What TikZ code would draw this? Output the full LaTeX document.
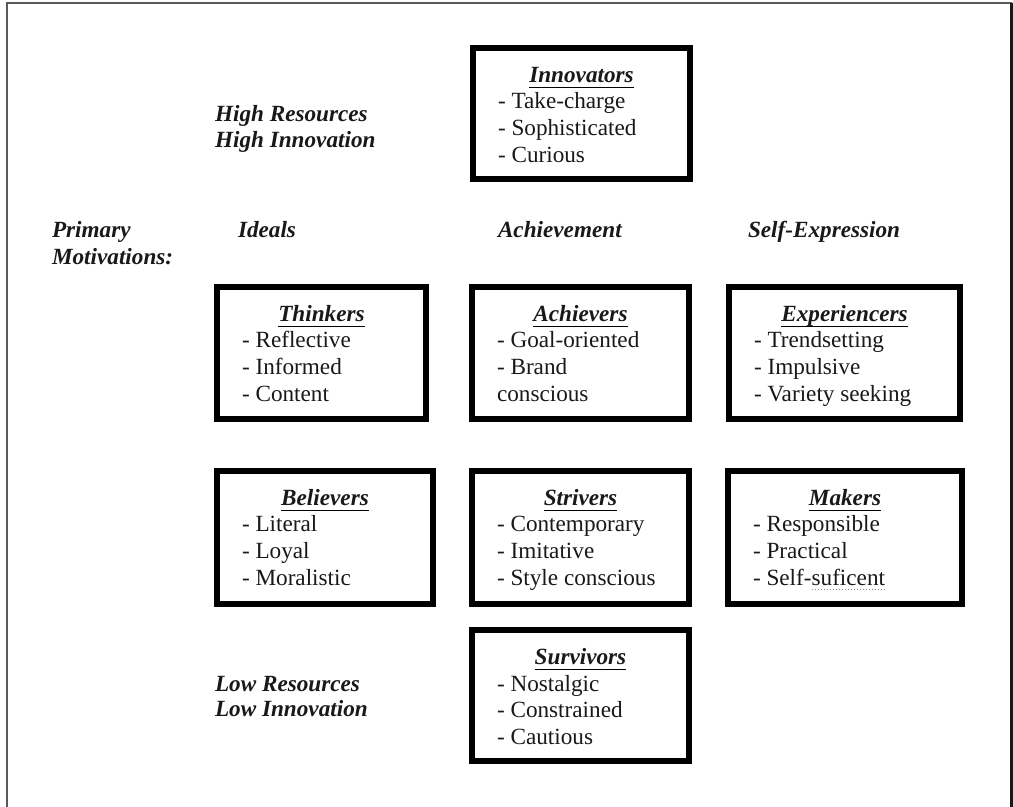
\documentclass[tikz,border=0pt]{standalone}
\usepackage{fontspec}
\setmainfont{Liberation Serif}
\usetikzlibrary{calc}
\newcommand{\bodysize}{\fontsize{11.6}{13.5}\selectfont}
\tikzset{
  cardbox/.style={draw=black, line width=3pt, inner sep=0pt, outer sep=0pt, fill=white},
  ttl/.style={anchor=base, inner sep=0pt, outer sep=0pt, text=black!90, font=\bodysize\bfseries\itshape},
  itm/.style={anchor=base west, inner sep=0pt, outer sep=0pt, text=black!90, font=\bodysize},
  lbl/.style={anchor=base west, inner sep=0pt, outer sep=0pt, text=black!90, font=\bodysize\bfseries\itshape},
  uline/.style={line width=0.65pt, black},
  frameleft/.style={draw=black!65, line width=1pt},
  frameright/.style={draw=black!90, line width=1.2pt},
  spellmark/.style={draw=black!45, line width=0.5pt, densely dotted}
}
\newcommand{\card}[9]{%
  \node[cardbox, minimum width={(#4-#2-6)*0.5pt}, minimum height={(#5-#3-6)*0.5pt}] (#1) at ({(#2+#4)/2},{(#3+#5)/2}) {};
  \node[ttl] (#1-t) at ($(#1.north)+(0,35)$) {#6};
  \draw[uline] ($(#1-t.base west)+(0,4.5)$) -- ($(#1-t.base east)+(0,4.5)$);
  \node[itm] (#1-a) at ($(#1.north west)+(25,61)$) {#7};
  \node[itm] (#1-b) at ($(#1.north west)+(25,88)$) {#8};
  \node[itm] (#1-c) at ($(#1.north west)+(25,115)$) {#9};
}
\begin{document}
\begin{tikzpicture}[x=0.5pt,y=-0.5pt]
  \useasboundingbox (0,0) rectangle (1013,807);
  \fill[white] (0,0) rectangle (1013,807);
  % outer frame
  \draw[frameleft] (7,808) -- (7,3.5) -- (1011.5,3.5);
  \draw[frameright] (1011.5,3) -- (1011.5,808);

  % cards
  \card{innovators}{470}{45}{693}{182}{Innovators}{- Take-charge}{- Sophisticated}{- Curious}
  \card{thinkers}{214}{284}{429}{422}{Thinkers}{- Reflective}{- Informed}{- Content}
  \card{achievers}{469}{284}{692}{422}{Achievers}{- Goal-oriented}{- Brand}{conscious}
  \card{experiencers}{726}{284}{963}{422}{Experiencers}{- Trendsetting}{- Impulsive}{- Variety seeking}
  \card{believers}{214}{468}{436}{607}{Believers}{- Literal}{- Loyal}{- Moralistic}
  \card{strivers}{469}{468}{692}{607}{Strivers}{- Contemporary}{- Imitative}{- Style conscious}
  \card{makers}{725}{468}{965}{607}{Makers}{- Responsible}{- Practical}{- Self-}
  \node[itm] (makers-d) at (makers-c.base east) {suficent};
  \draw[spellmark] ($(makers-d.base west)+(0,3.5)$) -- ($(makers-d.base east)+(0,3.5)$);
  \card{survivors}{469}{627}{692}{764}{Survivors}{- Nostalgic}{- Constrained}{- Cautious}

  % labels
  \node[lbl] (hr) at (215,122) {High Resources};
  \node[lbl] (hi) at (215,148) {High Innovation};
  \node[lbl] (pm1) at (52,238) {Primary};
  \node[lbl] (pm2) at (52,265) {Motivations:};
  \node[lbl] (ideals) at (238,238) {Ideals};
  \node[lbl] (achv) at (498,238) {Achievement};
  \node[lbl] (selfex) at (748,238) {Self-Expression};
  \node[lbl] (lr) at (215,691) {Low Resources};
  \node[lbl] (li) at (215,717) {Low Innovation};
\end{tikzpicture}
\end{document}
